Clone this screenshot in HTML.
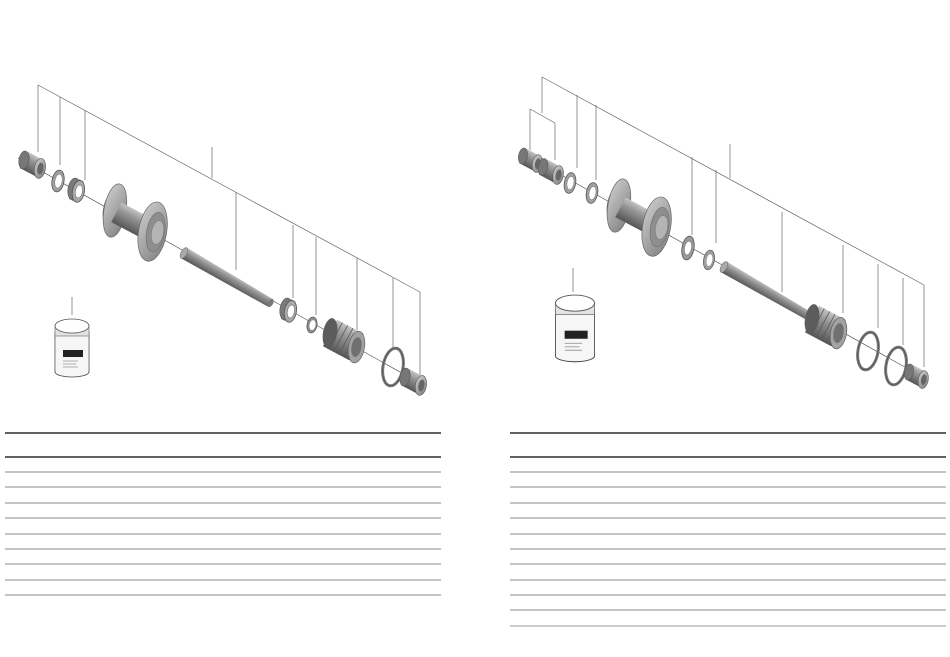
<!DOCTYPE html>
<html><head><meta charset="utf-8"><style>
html,body{margin:0;padding:0;background:#fff;}
svg{display:block;}
</style></head><body>
<svg width="950" height="657" viewBox="0 0 950 657" xmlns="http://www.w3.org/2000/svg">
<defs>
<linearGradient id="m" x1="0" y1="0" x2="0" y2="1">
<stop offset="0" stop-color="#c4c4c4"/><stop offset="0.35" stop-color="#959595"/><stop offset="1" stop-color="#555"/></linearGradient>
<linearGradient id="f" x1="0" y1="0" x2="1" y2="1">
<stop offset="0" stop-color="#cfcfcf"/><stop offset="1" stop-color="#7e7e7e"/></linearGradient>
<g id="nut">
<rect x="0" y="-9" width="18" height="18" fill="url(#m)"/>
<ellipse cx="0" cy="0" rx="5" ry="9" fill="#777" stroke="#555" stroke-width=".6" transform="rotate(-18 0 0)"/>
<g transform="rotate(-18 18 0)">
<ellipse cx="18" cy="0" rx="5.5" ry="10" fill="url(#f)" stroke="#555" stroke-width=".6"/>
<ellipse cx="18.5" cy="0" rx="3" ry="6" fill="#666"/></g>
</g>
<g id="ring" transform="rotate(-18)">
<ellipse cx="0" cy="0" rx="6" ry="11" fill="#a0a0a0" stroke="#555" stroke-width=".8"/>
<ellipse cx="0.5" cy="0" rx="3.6" ry="7" fill="#fff" stroke="#777" stroke-width=".5"/>
</g>
<g id="brg">
<rect x="0" y="-11" width="5" height="22" fill="#7a7a7a"/>
<g transform="rotate(-18 0 0)"><ellipse cx="0" cy="0" rx="6" ry="11" fill="#7a7a7a" stroke="#555" stroke-width=".6"/></g>
<g transform="rotate(-18 5 0)">
<ellipse cx="5" cy="0" rx="6" ry="11" fill="#a8a8a8" stroke="#555" stroke-width=".8"/>
<ellipse cx="5.5" cy="0" rx="3.5" ry="6.5" fill="#fff" stroke="#666" stroke-width=".5"/></g>
</g>
<g id="bigring" transform="rotate(-18)">
<ellipse cx="0" cy="0" rx="10" ry="19" fill="none" stroke="#777" stroke-width="3"/>
<ellipse cx="0" cy="0" rx="10" ry="19" fill="none" stroke="#444" stroke-width=".5"/>
</g>
<g id="hub">
<g transform="rotate(-18 0 0)">
<ellipse cx="-2" cy="0" rx="7" ry="16" fill="#6e6e6e"/>
<ellipse cx="3" cy="0" rx="11" ry="27" fill="url(#f)" stroke="#666" stroke-width=".7"/></g>
<rect x="5" y="-11" width="40" height="22" fill="url(#m)"/>
<g transform="rotate(-18 46 0)">
<ellipse cx="46" cy="0" rx="14" ry="30" fill="url(#f)" stroke="#666" stroke-width=".7"/>
<ellipse cx="49" cy="0" rx="9" ry="20" fill="#8e8e8e" stroke="#666" stroke-width=".5"/>
<ellipse cx="51" cy="0" rx="6" ry="12" fill="#b4b4b4" stroke="#777" stroke-width=".5"/></g>
</g>
<g id="axle">
<path d="M0 -6 L100 -4.5 L100 4.5 L0 6 Z" fill="url(#m)"/>
<ellipse cx="0" cy="0" rx="3" ry="6" fill="#aaa" stroke="#666" stroke-width=".5"/>
<ellipse cx="100" cy="0" rx="2.5" ry="4.5" fill="#777"/>
</g>
<g id="fh">
<rect x="0" y="-15" width="30" height="30" fill="url(#m)"/>
<ellipse cx="0" cy="0" rx="7" ry="15" fill="#5c5c5c" transform="rotate(-18 0 0)"/>
<path d="M6 -15 V15 M12 -15 V15 M18 -15 V15 M24 -15 V15" stroke="#5a5a5a" stroke-width=".8"/>
<g transform="rotate(-18 30 0)">
<ellipse cx="30" cy="0" rx="8" ry="16" fill="#a2a2a2" stroke="#555" stroke-width=".6"/>
<ellipse cx="30" cy="0" rx="5" ry="10" fill="#707070"/></g>
</g>
<g id="jar">
<rect x="-17" y="0" width="34" height="40" fill="#f6f6f6" stroke="#444" stroke-width=".8"/>
<ellipse cx="0" cy="40" rx="17" ry="5" fill="#f6f6f6" stroke="#444" stroke-width=".8"/>
<rect x="-16.6" y="2" width="33.2" height="38" fill="#f6f6f6"/>
<rect x="-17" y="-6" width="34" height="10" fill="#e2e2e2" stroke="#666" stroke-width=".6"/>
<ellipse cx="0" cy="-6" rx="17" ry="7" fill="#fff" stroke="#555" stroke-width=".8"/>
<rect x="-9" y="18" width="20" height="7" fill="#222"/>
<path d="M-9 29 H6 M-9 32 H4 M-9 35 H6" stroke="#999" stroke-width=".8"/>
</g>
</defs>

<g stroke="#666" stroke-width=".7" fill="none">
<path d="M38 85 L420 292 M38 85 V152 M60 97 V165 M85 110 V180 M212 147 V178 M236 192 V270 M293 225 V298 M316 237 V315 M357 258 V330 M393 278 V350 M420 292 V375 M72 297 V315"/>
<path d="M542 77 L924 285 M542 77 V113 M530 109 L555 123 M530 109 V150 M555 123 V160 M577 95 V168 M596 105 V180 M692 157 V235 M716 170 V243 M730 144 V178 M782 212 V292 M843 245 V313 M878 264 V328 M903 278 V345 M924 285 V367 M573 268 V292"/>
</g>
<g stroke="#444" stroke-width=".6">
<line x1="18" y1="158" x2="425" y2="386"/>
<line x1="520" y1="152" x2="928" y2="380"/>
</g>

<use href="#nut" transform="translate(24,160) rotate(28)"/>
<use href="#ring" transform="translate(58,181) rotate(28)"/>
<use href="#brg" transform="translate(74,189) rotate(28)"/>
<use href="#hub" transform="translate(112,210) rotate(28)"/>
<use href="#axle" transform="translate(184,253) rotate(30)"/>
<use href="#brg" transform="translate(286,309) rotate(28)"/>
<g transform="translate(312,325) rotate(10)"><ellipse rx="5" ry="8" fill="#8e8e8e" stroke="#555" stroke-width=".7"/><ellipse cx=".5" rx="3" ry="5" fill="#fff"/></g>
<use href="#fh" transform="translate(330,333) rotate(28)"/>
<use href="#bigring" transform="translate(393,367) rotate(28)"/>
<use href="#nut" transform="translate(405,377) rotate(28)"/>
<use href="#jar" transform="translate(72,332)"/>

<use href="#nut" transform="translate(523,156) rotate(28) scale(.9)"/>
<use href="#nut" transform="translate(543,167) rotate(28) scale(.95)"/>
<use href="#ring" transform="translate(570,183) rotate(28) scale(.95)"/>
<use href="#ring" transform="translate(592,193) rotate(28) scale(.95)"/>
<use href="#hub" transform="translate(616,205) rotate(28)"/>
<g transform="translate(688,248) rotate(10)"><ellipse rx="6" ry="12" fill="#999" stroke="#555" stroke-width=".8"/><ellipse rx="3.5" ry="7" fill="#fff" stroke="#666" stroke-width=".5"/></g>
<use href="#ring" transform="translate(709,260) rotate(28) scale(.9)"/>
<use href="#axle" transform="translate(724,267) rotate(30)"/>
<use href="#fh" transform="translate(812,319) rotate(28)"/>
<use href="#bigring" transform="translate(868,351) rotate(28)"/>
<use href="#bigring" transform="translate(896,366) rotate(28)"/>
<use href="#nut" transform="translate(909,372) rotate(28) scale(.9)"/>
<use href="#jar" transform="translate(575,310) scale(1.15)"/>

<g stroke-width="1">
<line x1="5" y1="433" x2="441" y2="433" stroke="#000" stroke-width="1.2"/>
<line x1="5" y1="457" x2="441" y2="457" stroke="#000" stroke-width="1.2"/>
<g stroke="#888">
<line x1="5" y1="472" x2="441" y2="472"/><line x1="5" y1="487" x2="441" y2="487"/>
<line x1="5" y1="503" x2="441" y2="503"/><line x1="5" y1="518" x2="441" y2="518"/>
<line x1="5" y1="534" x2="441" y2="534"/><line x1="5" y1="549" x2="441" y2="549"/>
<line x1="5" y1="564" x2="441" y2="564"/><line x1="5" y1="580" x2="441" y2="580"/>
<line x1="5" y1="595" x2="441" y2="595"/>
</g>
<line x1="510" y1="433" x2="946" y2="433" stroke="#000" stroke-width="1.2"/>
<line x1="510" y1="457" x2="946" y2="457" stroke="#000" stroke-width="1.2"/>
<g stroke="#888">
<line x1="510" y1="472" x2="946" y2="472"/><line x1="510" y1="487" x2="946" y2="487"/>
<line x1="510" y1="503" x2="946" y2="503"/><line x1="510" y1="518" x2="946" y2="518"/>
<line x1="510" y1="534" x2="946" y2="534"/><line x1="510" y1="549" x2="946" y2="549"/>
<line x1="510" y1="564" x2="946" y2="564"/><line x1="510" y1="580" x2="946" y2="580"/>
<line x1="510" y1="595" x2="946" y2="595"/><line x1="510" y1="610" x2="946" y2="610"/>
<line x1="510" y1="626" x2="946" y2="626" stroke="#bbb" stroke-width="1.5"/>
</g>
</g>
</svg>
</body></html>
